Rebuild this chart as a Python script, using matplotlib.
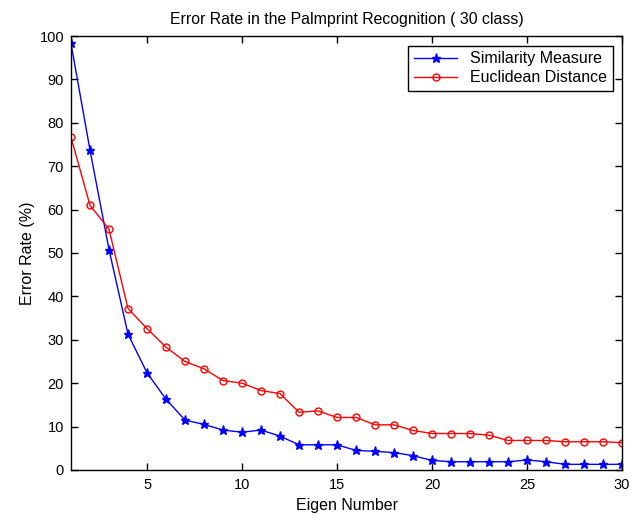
import matplotlib
matplotlib.use("Agg")
import matplotlib.pyplot as plt

# Data
eigen_number = list(range(1, 31))
similarity_measure = [98.3, 73.7, 50.8, 31.3, 22.4, 16.3, 11.5, 10.5, 9.2, 8.7,
                      9.2, 7.8, 5.8, 5.8, 5.8, 4.5, 4.3, 4.0, 3.3, 2.2,
                      1.9, 1.9, 1.9, 1.9, 2.3, 1.9, 1.3, 1.3, 1.3, 1.3]
euclidean_distance = [76.7, 61.0, 55.5, 37.2, 32.6, 28.3, 25.0, 23.3, 20.6, 20.0,
                      18.3, 17.6, 13.3, 13.6, 12.1, 12.1, 10.4, 10.4, 9.1, 8.4,
                      8.4, 8.4, 8.0, 6.8, 6.8, 6.8, 6.5, 6.5, 6.5, 6.3]
x_ticks = [5, 10, 15, 20, 25, 30]
y_ticks = list(range(0, 101, 10))

plt.rcParams["font.family"] = ["Liberation Sans", "DejaVu Sans"]
plt.rcParams["font.size"] = 10.5

fig = plt.figure(figsize=(6.42, 5.18), dpi=100)
ax = fig.add_axes([0.1106, 0.0927, 0.8584, 0.8378])

ax.plot(eigen_number, similarity_measure, color="blue", marker="*",
        markersize=6.5, linewidth=1, label="Similarity Measure")
ax.plot(eigen_number, euclidean_distance, color="red", marker="o",
        markersize=5, markerfacecolor="none", markeredgewidth=1,
        linewidth=1, label="Euclidean Distance")

ax.set_xlim(1, 30)
ax.set_ylim(0, 100)
ax.set_xticks(x_ticks)
ax.set_yticks(y_ticks)
ax.tick_params(direction="in", top=True, right=True, length=5, width=1,
               labelsize=10.5)
ax.tick_params(axis="x", pad=6)
ax.tick_params(axis="y", pad=5)
for s in ax.spines.values():
    s.set_linewidth(1)

ax.set_title("Error Rate in the Palmprint Recognition ( 30 class)",
             fontsize=11.4, pad=9)
ax.set_xlabel("Eigen Number", fontsize=11.5, labelpad=4)
ax.set_ylabel("Error Rate (%)", fontsize=11.5, labelpad=3)

leg = ax.legend(loc="upper right", fancybox=False, edgecolor="black",
                framealpha=1, borderaxespad=0.6, handlelength=2.7,
                fontsize=11.5, borderpad=0.35, labelspacing=0.25)
leg.get_frame().set_linewidth(1)

fig.savefig("out.png", dpi=100)
